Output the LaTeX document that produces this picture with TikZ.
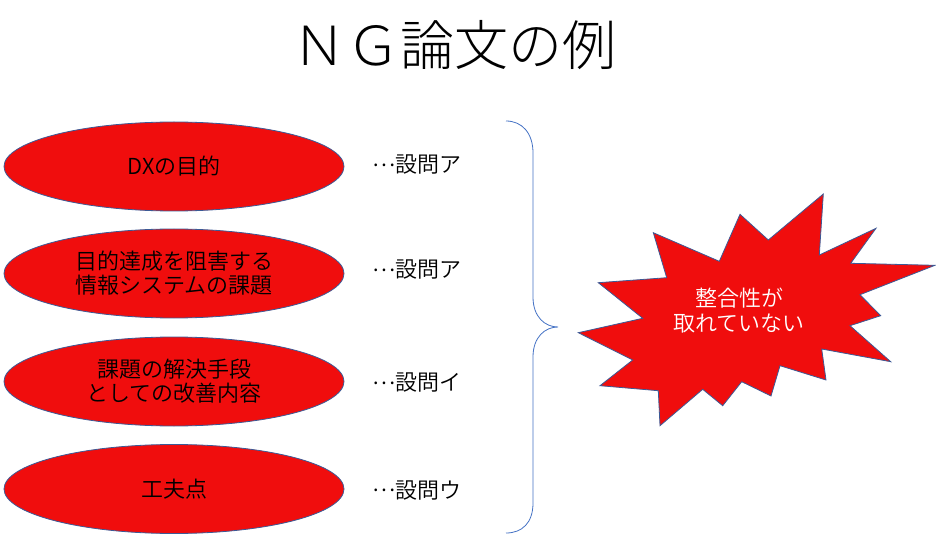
\documentclass[tikz,border=0pt]{standalone}
\usepackage{fontspec}
\setmainfont{Noto Sans CJK JP DemiLight}
\newfontfamily\titlefont{Noto Sans CJK JP Light}
\usetikzlibrary{shapes.geometric}
\definecolor{ngred}{RGB}{240,13,13}
\definecolor{ngedge}{RGB}{60,90,150}
\definecolor{ngbrace}{RGB}{68,114,196}
\newcommand{\ngdots}{\raisebox{0.3em}{…}}
\tikzset{
  theme/.style={ellipse, draw=ngedge, line width=0.8pt, fill=ngred, minimum width=340pt, minimum height=89pt, inner sep=0pt, align=center, font=\fontsize{22}{24}\selectfont},
  qlabel/.style={anchor=west, inner sep=0pt, font=\fontsize{22}{24}\selectfont},
}
\begin{document}
\begin{tikzpicture}[x=1pt,y=-1pt]
  \useasboundingbox (0,0) rectangle (936,534);
  \node[font=\titlefont\fontsize{54}{60}\selectfont] (title) at (454,45) {ＮＧ論文の例}; % title

  \node[theme] (purpose) at (174,166.5) {DXの目的};
  \node[theme] (issue) at (174,273.5) {目的達成を阻害する\\情報システムの課題};
  \node[theme] (remedy) at (174,381.5) {課題の解決手段\\としての改善内容};
  \node[theme] (idea) at (174,489) {工夫点};

  \node[qlabel] (qa1) at (372,165) {\ngdots 設問ア};
  \node[qlabel] (qa2) at (372,270) {\ngdots 設問ア};
  \node[qlabel] (qi) at (372,383) {\ngdots 設問イ};
  \node[qlabel] (qu) at (372,490) {\ngdots 設問ウ};

  % brace
  \draw[ngbrace, line width=0.8pt] (506,121) .. controls (522,121) and (533,133) .. (533,153)
    -- (533,297) .. controls (533,317) and (545,327) .. (558,327)
    .. controls (545,327) and (533,337) .. (533,357)
    -- (533,503) .. controls (533,523) and (522,533) .. (506,533);

  % starburst
  \filldraw[fill=ngred, draw=ngedge, line width=0.8pt, line join=miter]
    (578.3,332.7) -- (642.7,318.3) -- (598.3,282.7) -- (666.7,277.7)
    -- (653.3,232.7) -- (719.3,261.3) -- (740,214.3) -- (768.3,240)
    -- (823.3,194) -- (819.3,255) -- (876,228.3) -- (850.7,263.3)
    -- (935,265.3) -- (860,294.7) -- (880.7,315.7) -- (850,325.7)
    -- (890.7,361.7) -- (821.7,349) -- (826,380) -- (780,365.7)
    -- (771,396) -- (741.7,381.7) -- (722.7,405.7) -- (702.7,389.3)
    -- (660,425.7) -- (658.3,390.7) -- (600,385.7) -- (632.7,360) -- cycle;
  \node[align=center, text=white, font=\fontsize{22}{24.4}\selectfont] (ng) at (739,310.5) {整合性が\\取れていない};
\end{tikzpicture}
\end{document}
